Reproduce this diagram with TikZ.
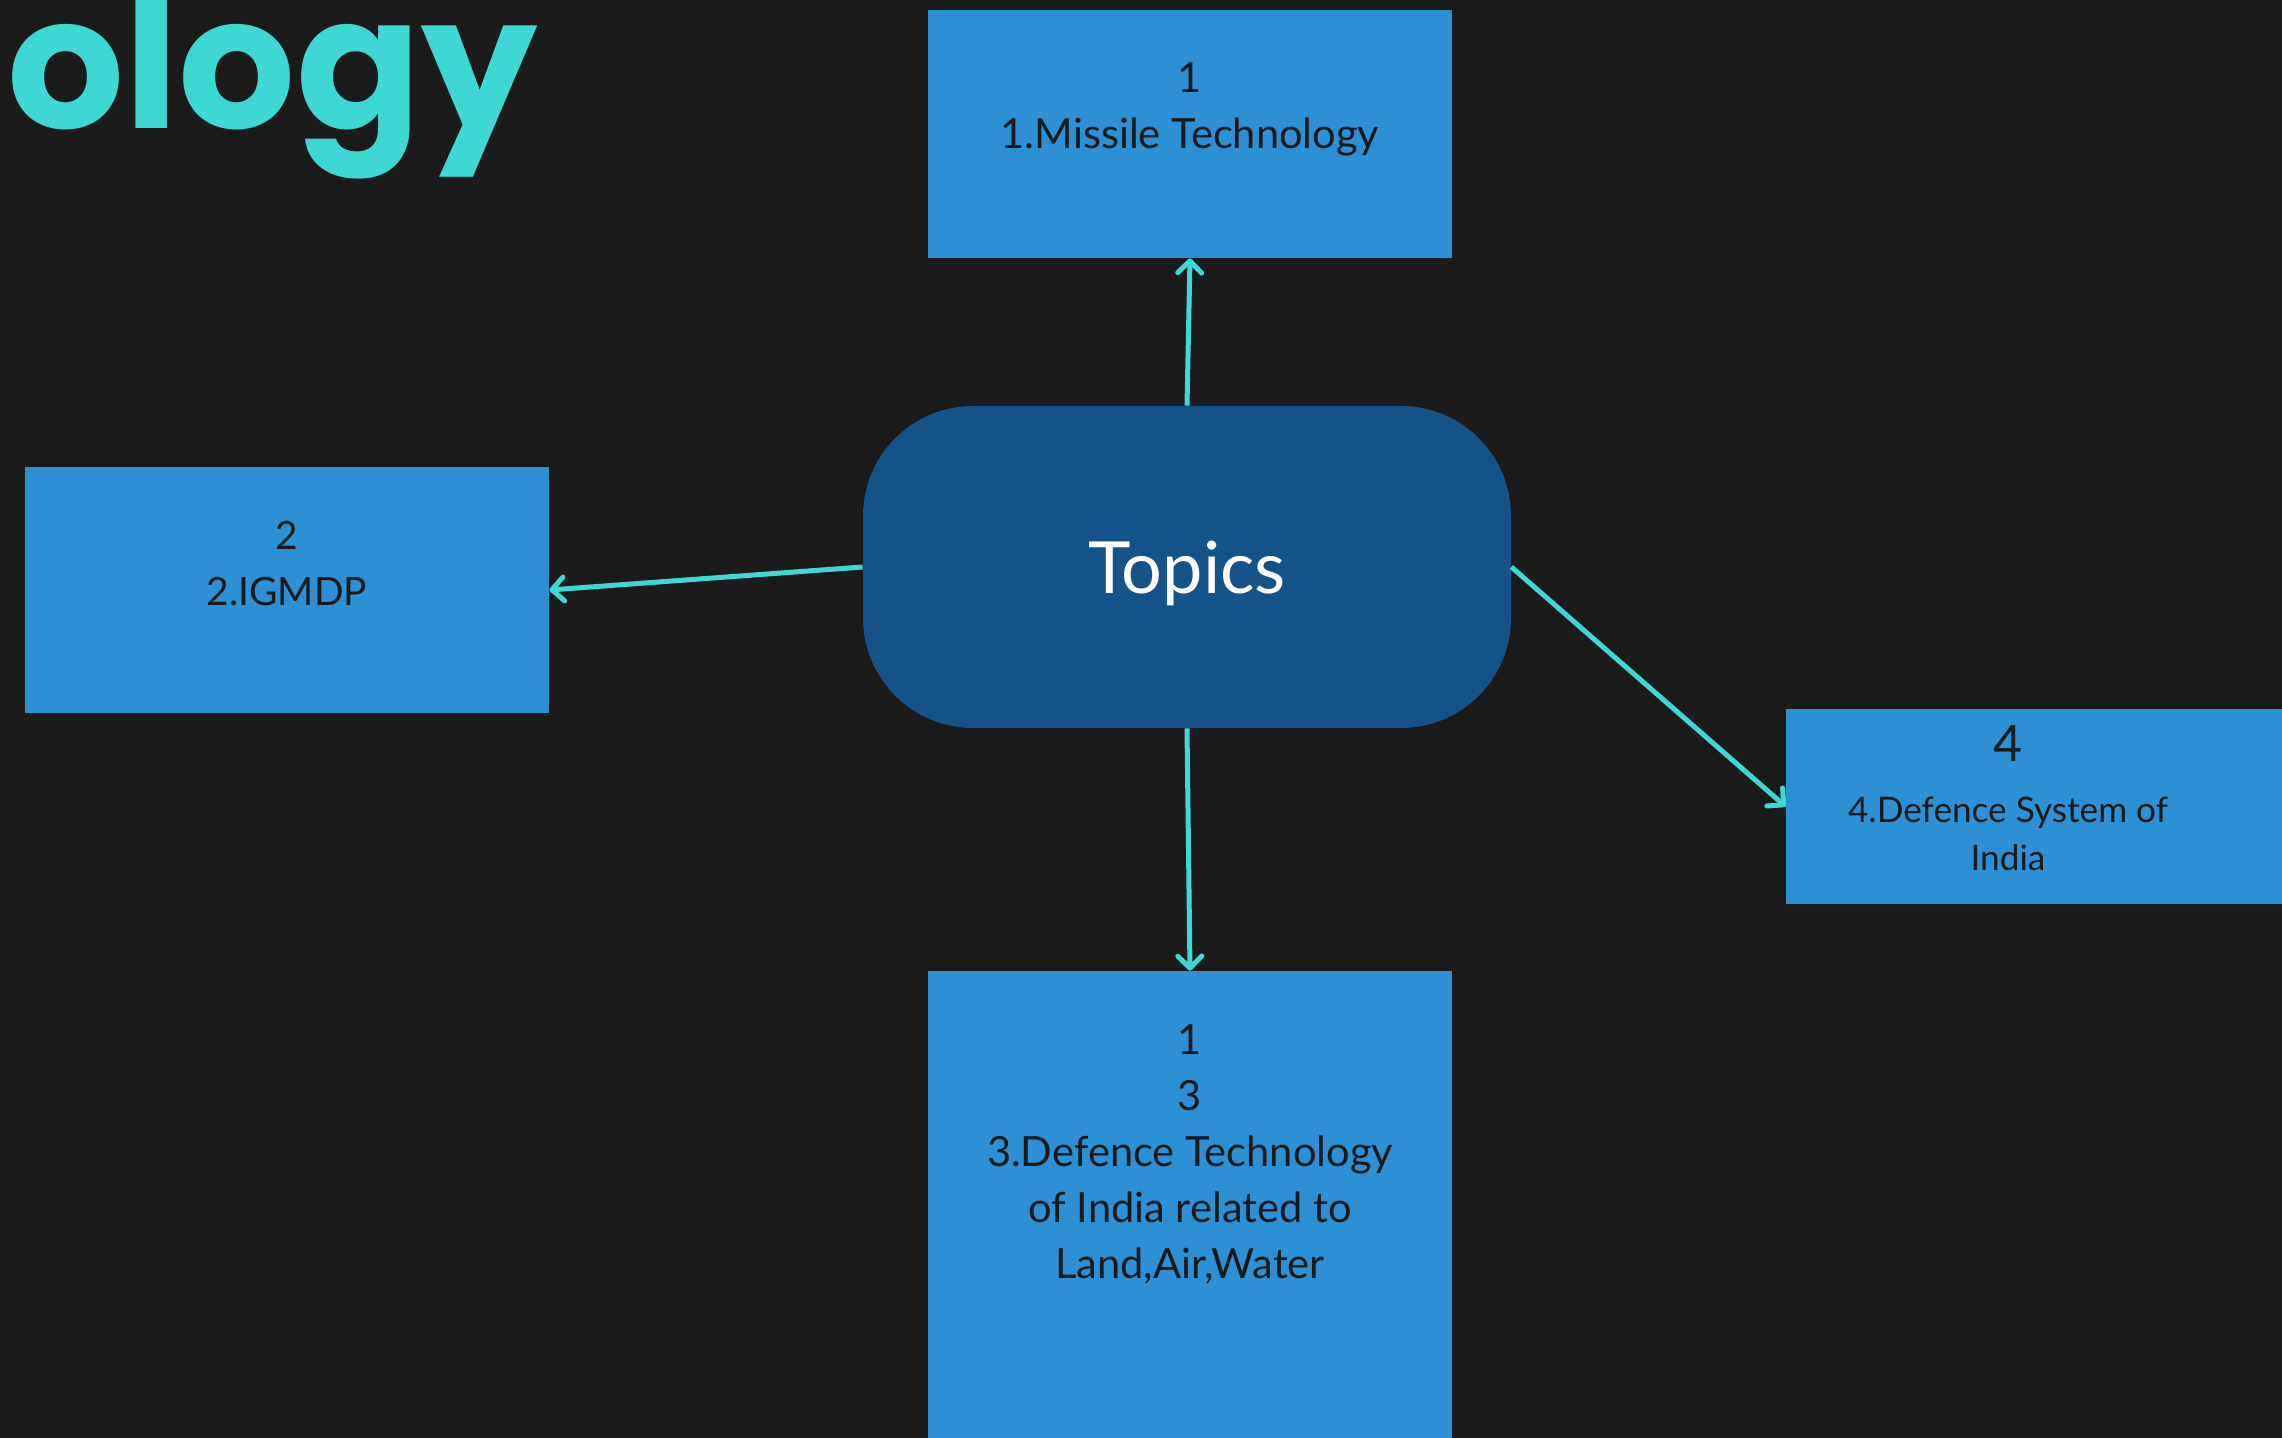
\documentclass[tikz,border=0pt]{standalone}
\usepackage{fontspec}
\setmainfont{Lato}
\newfontfamily\titlefont{Poppins}
\usetikzlibrary{arrows.meta}
\definecolor{bg}{HTML}{1B1B1B}
\definecolor{boxblue}{HTML}{2D8FD4}
\definecolor{hubblue}{HTML}{145288}
\definecolor{cyanline}{HTML}{3ED8D4}
\definecolor{ink}{HTML}{1A1A1A}
\begin{document}
\begin{tikzpicture}[x=0.5pt,y=-0.5pt,
  topicbox/.style={rectangle, fill=boxblue, draw=none, inner sep=0pt},
  lbl/.style={text=ink, align=center, inner sep=0pt, font=\fontsize{20.8}{28}\selectfont},
  link/.style={draw=cyanline, line width=2.5pt, -{Straight Barb[length=6pt,width=12pt,round]}},
]
% canvas
\fill[bg] (0,0) rectangle (2282,1438);
\useasboundingbox (0,0) rectangle (2282,1438);

% heading fragment
\node[anchor=base west, inner sep=0pt, text=cyanline,
      font=\titlefont\bfseries\fontsize{92}{92}\selectfont] (title) at (7,129) {ology};

% central hub
\node[rectangle, rounded corners=55pt, fill=hubblue, minimum width=324pt, minimum height=161pt,
      inner sep=0pt, text=white, text depth=0pt, font=\fontsize{36}{42}\selectfont] (hub) at (1187,567) {Topics};

% topic boxes
\node[topicbox, minimum width=262pt, minimum height=124pt] (b1) at (1190,134) {};
\node[topicbox, minimum width=262pt, minimum height=123pt] (b2) at (287,590) {};
\node[topicbox, minimum width=262pt, minimum height=245pt] (b3) at (1190,1216) {};
\node[topicbox, minimum width=260pt, minimum height=97.5pt] (b4) at (2046,806.5) {};

% box texts
\node[lbl] (t1) at (1190,109) {1\\1.Missile Technology};
\node[lbl, font=\fontsize{19.5}{28}\selectfont] (t2) at (287,564) {2\\2.IGMDP};
\node[lbl] (t3) at (1190,1154) {1\\3\\3.Defence Technology\\of India related to\\Land,Air,Water};
\node[lbl, font=\fontsize{25}{30}\selectfont] (t4n) at (2008,744) {4};
\node[lbl, font=\fontsize{17.6}{24}\selectfont] (t4) at (2008,834) {4.Defence System of\\India};

% connectors
\draw[link] (hub.north) -- (b1.south);
\draw[link] (hub.west) -- (b2.east);
\draw[link] (hub.south) -- (b3.north);
\draw[link] (hub.east) -- (b4.west);
\end{tikzpicture}
\end{document}
